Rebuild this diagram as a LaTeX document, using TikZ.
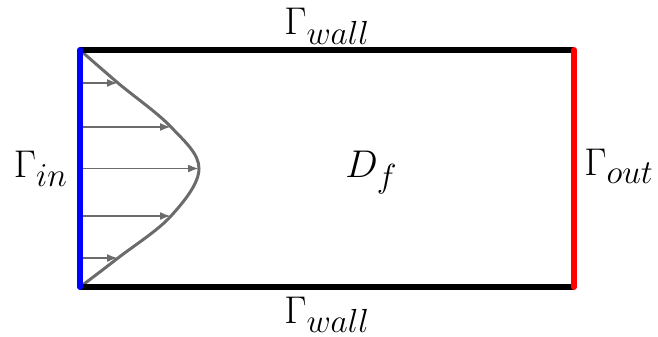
\RequirePackage{fix-cm}
\documentclass[tikz,border=0pt]{standalone}
\usepackage{tikz}
\usetikzlibrary{
  arrows.meta,
  positioning
}
\DeclareMathSizes{22}{22}{19}{15}
\definecolor{ink}{HTML}{000000}
\definecolor{inflow}{HTML}{0000FF}
\definecolor{outflow}{HTML}{FF0000}
\definecolor{profile}{HTML}{6B6B6B}
\tikzset{
  wall/.style={
    line width=3.4pt,
    draw=ink
  },
  inlet/.style={
    line width=3.4pt,
    draw=inflow,
    line cap=round
  },
  outlet/.style={
    line width=3.4pt,
    draw=outflow,
    line cap=round
  },
  profileline/.style={
    line width=1.7pt,
    draw=profile
  },
  velocity/.style={
    -{Latex[length=2.2mm,width=1.6mm]},
    line width=1.1pt,
    draw=profile
  },
  boundarylabel/.style={
    font=\fontsize{22}{26}\selectfont,
    inner sep=0pt
  }
}

\begin{document}
\begin{tikzpicture}[x=0.02cm,y=-0.02cm]
  \useasboundingbox (0,0) rectangle (658,337);

  % Corners of the fluid domain.
  \coordinate (nw) at (80,50);
  \coordinate (ne) at (574,50);
  \coordinate (sw) at (80,287);
  \coordinate (se) at (574,287);

  % Inflow profile and velocity arrows.
  \draw[profileline] plot[smooth, tension=0.6] coordinates {
    (80,50) (118,83) (171,127) (199,168.5) (171,216) (118,258) (80,287)};
  \foreach \y/\x in {83/118, 127/171, 168.5/199, 216/171, 258/118}{
    \draw[velocity] (80,\y) -- (\x,\y);
  }

  % Walls, inlet and outlet.
  \draw[wall] (nw) -- (ne);
  \draw[wall] (sw) -- (se);
  \draw[inlet] (nw) -- (sw);
  \draw[outlet] (ne) -- (se);

  % Labels.
  \node[boundarylabel, anchor=base] (walltop) at (327,35) {$\Gamma_{wall}$};
  \node[boundarylabel, anchor=base] (wallbottom) at (327,323) {$\Gamma_{wall}$};
  \node[boundarylabel, anchor=base east] (inlabel) at (68,178) {$\Gamma_{in}$};
  \node[boundarylabel, anchor=base west] (outlabel) at (584,176) {$\Gamma_{out}$};
  \node[boundarylabel, anchor=base west] (domain) at (345,178) {$D_f$};
\end{tikzpicture}
\end{document}
